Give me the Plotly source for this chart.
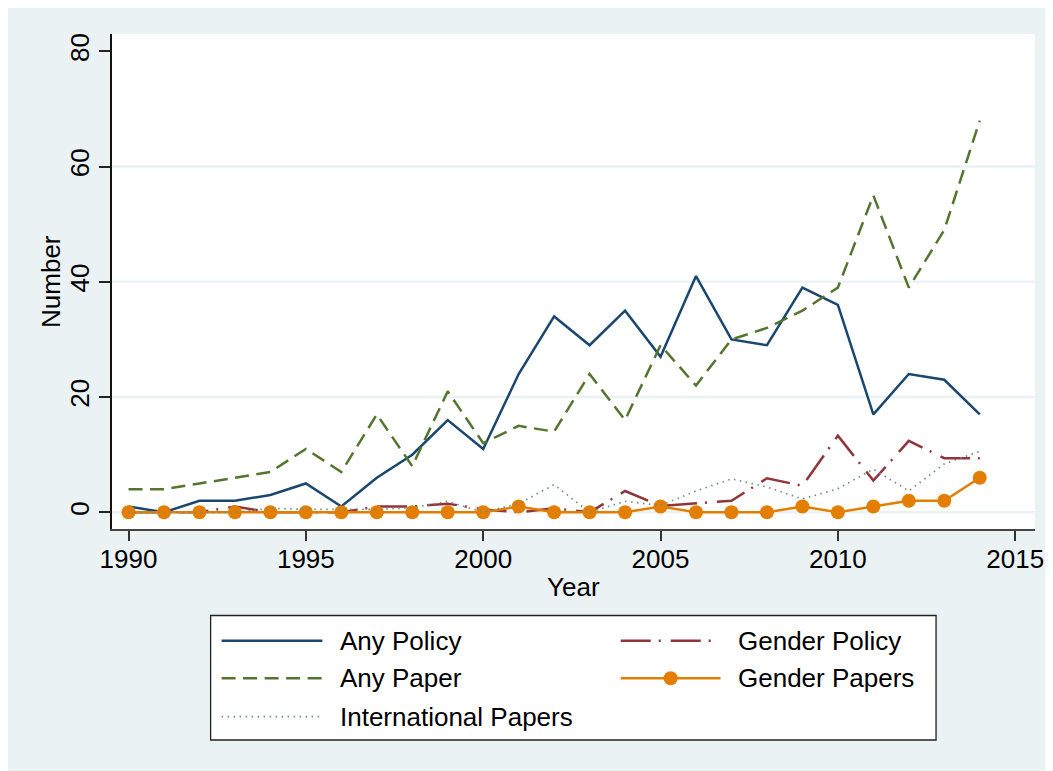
import plotly.graph_objects as go

# ---------------- data ----------------
years = list(range(1990, 2015))
any_policy = [1, 0, 2, 2, 3, 5, 1, 6, 10, 16, 11, 24, 34, 29, 35, 27, 41, 30, 29, 39, 36, 17, 24, 23, 17]
gender_policy = [0, 0, 0, 1, 0, 0, 0, 1, 1, 1.5, 0.5, 0, 0.7, 0, 3.7, 1.1, 1.6, 2, 5.9, 4.6, 13.3, 5.5, 12.4, 9.4, 9.4]
any_paper = [4, 4, 5, 6, 7, 11, 7, 17, 8, 21, 12, 15, 14, 24, 16, 29, 22, 30, 32, 35, 39, 55, 39, 49, 68]
gender_papers = [0, 0, 0, 0, 0, 0, 0, 0, 0, 0, 0, 1, 0, 0, 0, 1, 0, 0, 0, 1, 0, 1, 2, 2, 6]
intl_papers = [0, 0, 0, 0, 0.7, 0.5, 0.5, 0.5, 0.8, 1.9, 0, 1.5, 4.8, 0, 1.9, 1.2, 3.7, 5.8, 4.4, 2.3, 4.1, 7.5, 3.7, 8.4, 10.6]

x_ticks = [1990, 1995, 2000, 2005, 2010, 2015]
y_ticks = [0, 20, 40, 60, 80]
grid_vals = [0, 20, 40, 60]

series_names = ["Any Policy", "Gender Policy", "Any Paper", "Gender Papers", "International Papers"]

# ---------------- styles ----------------
NAVY = "#1a476f"
MAROON = "#90353b"
GREEN = "#55752f"
ORANGE = "#e37e00"
TEAL = "#6e8e84"
BG = "#eaf2f3"
FONT = "Liberation Sans, Arial, Helvetica, sans-serif"

OFF = 8          # page body margin
SX = 0.9925      # horizontal shrink observed in the captured page
W, H = 1045, 763
ML = 104
MR = W - 1036
MT = 34 - OFF
MB = 771 - 529
PW = W - ML - MR
PH = H - MT - MB

def xp(sx):  # screen px -> paper
    return (sx / SX - OFF - ML) / PW

def yp(sy):
    return (H - MB - (sy - OFF)) / PH

dash_paper = "14px,7.5px"
dash_gpol = "30px,8px,2px,10px"
dash_intl = "1.5px,4.5px"

styles = {
    "Any Policy": dict(color=NAVY, width=2.5, dash="solid"),
    "Gender Policy": dict(color=MAROON, width=2.5, dash=dash_gpol),
    "Any Paper": dict(color=GREEN, width=2.5, dash=dash_paper),
    "Gender Papers": dict(color=ORANGE, width=2.5, dash="solid"),
    "International Papers": dict(color=TEAL, width=1.7, dash=dash_intl),
}
values = {
    "Any Policy": any_policy,
    "Gender Policy": gender_policy,
    "Any Paper": any_paper,
    "Gender Papers": gender_papers,
    "International Papers": intl_papers,
}

fig = go.Figure()
for name in series_names:
    st = styles[name]
    if name == "Gender Papers":
        fig.add_trace(go.Scatter(x=years, y=values[name], name=name, mode="lines+markers",
                                 line=dict(color=st["color"], width=st["width"]),
                                 marker=dict(color=st["color"], size=14, line=dict(width=0)),
                                 showlegend=False))
    else:
        fig.add_trace(go.Scatter(x=years, y=values[name], name=name, mode="lines",
                                 line=dict(color=st["color"], width=st["width"], dash=st["dash"]),
                                 showlegend=False))

shapes = []
# gridlines
for g in grid_vals:
    shapes.append(dict(type="line", xref="paper", yref="y", x0=0, x1=1, y0=g, y1=g,
                       line=dict(color=BG, width=2.5), layer="below"))

# custom legend
box = dict(x0=210, x1=937, y0=615.5, y1=740)
shapes.append(dict(type="rect", xref="paper", yref="paper", x0=xp(box["x0"]), x1=xp(box["x1"]),
                   y0=yp(box["y1"]), y1=yp(box["y0"]), fillcolor="white",
                   line=dict(color="#222222", width=1.3), layer="above"))

legend_layout = [
    ("Any Policy", 221, 322, 338, 640.7),
    ("Gender Policy", 621, 721, 737, 640.7),
    ("Any Paper", 221, 322, 338, 678.3),
    ("Gender Papers", 621, 721, 737, 678.3),
    ("International Papers", 221, 322, 338, 716.7),
]
annotations = []
for name, sx0, sx1, tx, ry in legend_layout:
    st = styles[name]
    shapes.append(dict(type="line", xref="paper", yref="paper", x0=xp(sx0), x1=xp(sx1),
                       y0=yp(ry), y1=yp(ry),
                       line=dict(color=st["color"], width=st["width"], dash=st["dash"]), layer="above"))
    if name == "Gender Papers":
        cx = (sx0 + sx1) / 2
        r = 7
        shapes.append(dict(type="circle", xref="paper", yref="paper", x0=xp(cx - r), x1=xp(cx + r),
                           y0=yp(ry + r), y1=yp(ry - r), fillcolor=ORANGE, line=dict(width=0),
                           layer="above"))
    annotations.append(dict(text=name, xref="paper", yref="paper", x=xp(tx), y=yp(ry),
                            xanchor="left", yanchor="middle", showarrow=False,
                            font=dict(family=FONT, size=26, color="black")))

# axis titles
annotations.append(dict(text="Number", xref="paper", yref="paper", x=xp(50), y=yp(281),
                        xanchor="center", yanchor="middle", textangle=-90, showarrow=False,
                        font=dict(family=FONT, size=26, color="black")))
annotations.append(dict(text="Year", xref="paper", yref="paper", x=xp(574), y=yp(587),
                        xanchor="center", yanchor="middle", showarrow=False,
                        font=dict(family=FONT, size=26, color="black")))

fig.update_layout(
    width=W, height=H,
    margin=dict(l=ML, r=MR, t=MT, b=MB, pad=0),
    paper_bgcolor=BG,
    plot_bgcolor="white",
    showlegend=False,
    shapes=shapes,
    annotations=annotations,
    font=dict(family=FONT, size=26, color="black"),
)
fig.update_xaxes(range=[1989.534, 2015.558], tickvals=x_ticks, ticks="outside", ticklen=10,
                 tickwidth=1.5, tickcolor="#333333", showline=True, linecolor="#444444", linewidth=1.5,
                 showgrid=False, zeroline=False, tickfont=dict(family=FONT, size=26, color="black"),
                 ticklabelstandoff=-4, fixedrange=True)
fig.update_yaxes(range=[-2.9, 83.02], tickvals=y_ticks, ticks="outside", ticklen=11,
                 tickwidth=1.5, tickcolor="#222222", showline=True, linecolor="#111111", linewidth=1.5,
                 showgrid=False, zeroline=False, tickangle=-90,
                 tickfont=dict(family=FONT, size=26, color="black"), fixedrange=True)

fig.write_html("out.html", config={"displayModeBar": False})
